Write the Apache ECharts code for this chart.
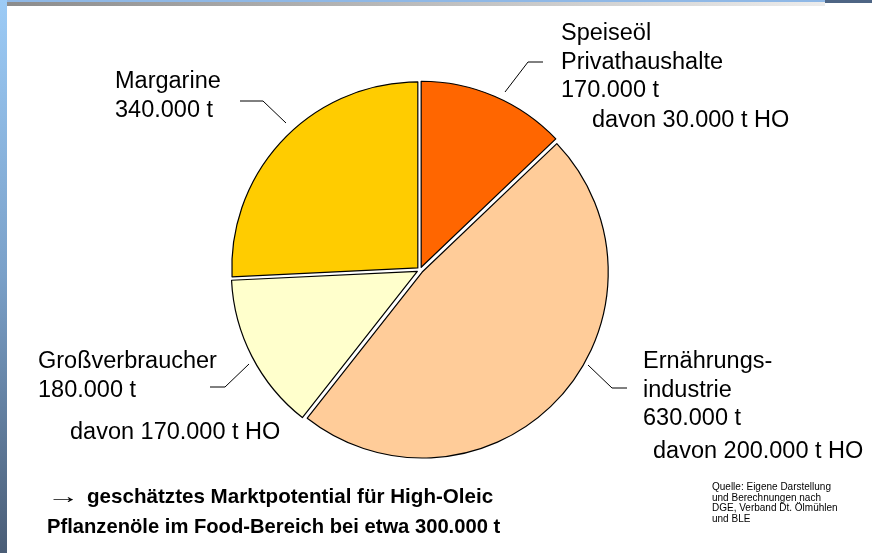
<!DOCTYPE html>
<html>
<head>
<meta charset="utf-8">
<script src="https://cdn.jsdelivr.net/npm/echarts@6/dist/echarts.min.js"></script>
<style>
  html, body { margin: 0; padding: 0; background: #fff; }
  #main { width: 872px; height: 553px; }
</style>
</head>
<body>
<div id="main"></div>
<script>
// Daten (Tonnen)
var segmente = ['Speiseöl\nPrivathaushalte', 'Ernährungs-\nindustrie', 'Großverbraucher', 'Margarine'];
var mengen = [170000, 630000, 180000, 340000];
var davonHO = [30000, 200000, 170000, null];
var farben = ['#ff6600', '#ffcc99', '#ffffcc', '#ffcc00'];

// Platzierung der Beschriftungen (Pixel, Zeilenmitte der ersten Zeile)
var labelPos = [
  { x: 561, y: 34, dx: 592, dy: 121, line: [[505, 92], [528, 62], [543, 62]] },
  { x: 643, y: 362, dx: 653, dy: 452, line: [[588, 365], [612, 388], [627, 388]] },
  { x: 38, y: 362, dx: 70, dy: 433, line: [[249, 364], [225, 387], [210, 387]] },
  { x: 115, y: 82, line: [[286, 123], [263, 101], [240, 101]] }
];

var FONT = '"Liberation Sans", Arial, sans-serif';

function tsd(n) {
  return String(n).replace(/\B(?=(\d{3})+(?!\d))/g, '.');
}

var myChart = echarts.init(document.getElementById('main'));

var pieData = [];
for (var i = 0; i < segmente.length; i++) {
  pieData.push({
    name: segmente[i],
    value: mengen[i],
    selected: true,
    itemStyle: { color: farben[i] }
  });
}

var graphics = [
  // blauer Streifen links
  {
    type: 'rect', left: 0, top: 0, silent: true,
    shape: { width: 7, height: 553 },
    style: {
      fill: new echarts.graphic.LinearGradient(0, 0, 0, 1, [
        { offset: 0, color: '#9ccbf6' },
        { offset: 0.5, color: '#7aa0c8' },
        { offset: 1, color: '#4a5d76' }
      ])
    }
  },
  // Balken oben
  {
    type: 'rect', left: 7, top: 0, silent: true,
    shape: { width: 818, height: 2 },
    style: { fill: '#8fb8e6' }
  },
  {
    type: 'rect', left: 7, top: 2, silent: true,
    shape: { width: 818, height: 4 },
    style: {
      fill: new echarts.graphic.LinearGradient(0, 0, 1, 0, [
        { offset: 0, color: '#8c8c8c' },
        { offset: 1, color: '#ececec' }
      ])
    }
  },
  {
    type: 'rect', left: 825, top: 0, silent: true,
    shape: { width: 47, height: 3 },
    style: { fill: '#4e6584' }
  },
  // Fazit
  {
    type: 'text', x: 47, y: 497, scaleX: 1.6, silent: true,
    style: { text: '→', font: 'bold 20.6px ' + FONT, verticalAlign: 'middle', fill: '#000' }
  },
  {
    type: 'text', x: 87, y: 497, silent: true,
    style: { text: 'geschätztes Marktpotential für High-Oleic', font: 'bold 20.6px ' + FONT, verticalAlign: 'middle', fill: '#000' }
  },
  {
    type: 'text', x: 47, y: 527, silent: true,
    style: { text: 'Pflanzenöle im Food-Bereich bei etwa 300.000 t', font: 'bold 20.2px ' + FONT, verticalAlign: 'middle', fill: '#000' }
  },
  // Quelle
  {
    type: 'text', x: 712, y: 482, silent: true,
    style: {
      text: 'Quelle: Eigene Darstellung\nund Berechnungen nach\nDGE, Verband Dt. Ölmühlen\nund BLE',
      font: '10px ' + FONT,
      lineHeight: 10.5,
      fill: '#000'
    }
  }
];

// Beschriftungen der Segmente aus den Daten
for (var k = 0; k < segmente.length; k++) {
  var lp = labelPos[k];
  var zeilen = segmente[k].split('\n');
  zeilen.push(tsd(mengen[k]) + ' t');
  for (var z = 0; z < zeilen.length; z++) {
    graphics.push({
      type: 'text', x: lp.x, y: lp.y + z * 28.5, silent: true,
      style: { text: zeilen[z], font: '23.5px ' + FONT, verticalAlign: 'middle', align: 'left', fill: '#000' }
    });
  }
  if (davonHO[k] != null) {
    graphics.push({
      type: 'text', x: lp.dx, y: lp.dy, silent: true,
      style: { text: 'davon ' + tsd(davonHO[k]) + ' t HO', font: '23.5px ' + FONT, verticalAlign: 'middle', align: 'left', fill: '#000' }
    });
  }
  graphics.push({
    type: 'polyline', silent: true,
    shape: { points: lp.line },
    style: { stroke: '#000', lineWidth: 1, fill: null }
  });
}

var option = {
  backgroundColor: '#ffffff',
  animation: false,
  graphic: graphics,
  series: [
    {
      type: 'pie',
      center: [420, 270],
      radius: 186,
      startAngle: 90,
      clockwise: true,
      selectedMode: 'multiple',
      selectedOffset: 3,
      data: pieData,
      itemStyle: { borderColor: '#000', borderWidth: 1.2 },
      emphasis: { disabled: true },
      label: { show: false },
      labelLine: { show: false }
    }
  ]
};

myChart.setOption(option);
</script>
</body>
</html>
